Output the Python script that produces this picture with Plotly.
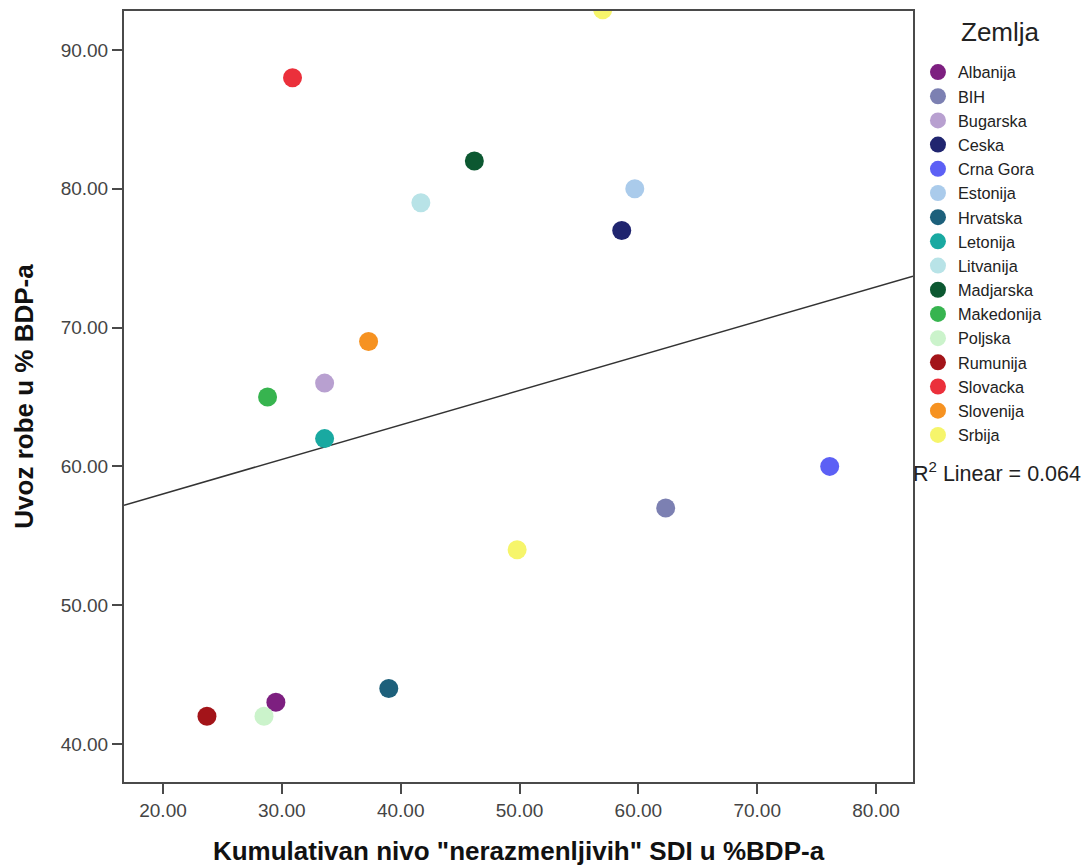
import plotly.graph_objects as go

# ---- data ----
countries = ["Albanija", "BIH", "Bugarska", "Ceska", "Crna Gora", "Estonija",
             "Hrvatska", "Letonija", "Litvanija", "Madjarska", "Makedonija",
             "Poljska", "Rumunija", "Slovacka", "Slovenija", "Srbija"]
sdi = [29.5, 62.3, 33.6, 58.6, 76.1, 59.7, 39.0, 33.6, 41.7, 46.2, 28.8, 28.5, 23.7, 30.9, 37.3, 49.8]
uvoz = [43.0, 57.0, 66.0, 77.0, 60.0, 80.0, 44.0, 62.0, 79.0, 82.0, 65.0, 42.0, 42.0, 88.0, 69.0, 54.0]
# extra Srbija point at the very top edge (partly clipped in reference)
extra_sdi = [57.0]
extra_uvoz = [92.9]
colors = ["#7d1f80", "#7c80b2", "#b8a0d0", "#20256f", "#5c60f5", "#aacbeb",
          "#1d607b", "#19a9a1", "#b8e3e7", "#0c5831", "#37b44f", "#cbf3cb",
          "#a31419", "#eb303b", "#f69221", "#f6f56b"]

fit_intercept = 53.05
fit_slope = 0.2485
r2_text = "R<sup>2</sup> Linear = 0.064"

x_range = [16.72, 83.11]
y_range = [37.26, 92.81]
x_ticks = [20, 30, 40, 50, 60, 70, 80]
y_ticks = [40, 50, 60, 70, 80, 90]

FONT = "Liberation Sans, Arial, sans-serif"
AX = "#4a4a4a"

fig = go.Figure()

# regression line
fig.add_trace(go.Scatter(
    x=x_range, y=[fit_intercept + fit_slope * v for v in x_range],
    mode="lines", line=dict(color="#333333", width=1.5),
    showlegend=False, hoverinfo="skip"))

for i, c in enumerate(countries):
    xs = [sdi[i]]
    ys = [uvoz[i]]
    if c == "Srbija":
        xs += extra_sdi
        ys += extra_uvoz
    fig.add_trace(go.Scatter(
        x=xs, y=ys, mode="markers", name=c,
        marker=dict(color=colors[i], size=19, line=dict(width=0)),
    ))

fig.update_layout(
    width=1090, height=868,
    margin=dict(l=124, r=177, t=11, b=86),
    paper_bgcolor="white", plot_bgcolor="white",
    font=dict(family=FONT, color="#333333"),
    showlegend=True,
    legend=dict(
        x=1.0063, xanchor="left", y=0.943, yanchor="top",
        font=dict(size=16.3, family=FONT, color="#222222"),
        itemsizing="trace", tracegroupgap=0,
        bgcolor="rgba(0,0,0,0)", borderwidth=0,
    ),
    xaxis=dict(
        range=x_range, tickvals=x_ticks, automargin=False,
        ticktext=[f"{v:.2f}" for v in x_ticks],
        showgrid=False, zeroline=False,
        showline=True, linecolor=AX, linewidth=2, mirror=True,
        ticks="outside", ticklen=10, tickwidth=2, tickcolor=AX,
        tickfont=dict(size=19, color="#444444", family=FONT),
        title=dict(text='Kumulativan nivo "nerazmenljivih" SDI u %BDP-a',
                   font=dict(size=26, color="#111111", family=FONT, weight="bold"),
                   standoff=22),
    ),
    yaxis=dict(
        range=y_range, tickvals=y_ticks, automargin=False,
        ticktext=[f"{v:.2f}" for v in y_ticks],
        showgrid=False, zeroline=False,
        showline=True, linecolor=AX, linewidth=2, mirror=True,
        ticks="outside", ticklen=10, tickwidth=2, tickcolor=AX,
        tickfont=dict(size=19, color="#444444", family=FONT),
        title=dict(text="Uvoz robe u % BDP-a",
                   font=dict(size=26, color="#111111", family=FONT, weight="bold"),
                   standoff=20),
    ),
    annotations=[
        dict(text="Zemlja", xref="paper", yref="paper",
             x=(1000 - 124) / 789, y=1 - (32 - 11) / 771,
             xanchor="center", yanchor="middle", showarrow=False,
             font=dict(size=26, color="#222222", family=FONT)),
        dict(text=r2_text, xref="paper", yref="paper",
             x=0.998, y=1 - (472 - 11) / 771,
             xanchor="left", yanchor="middle", showarrow=False,
             font=dict(size=21.5, color="#222222", family=FONT)),
    ],
)

fig.write_html("out.html")
